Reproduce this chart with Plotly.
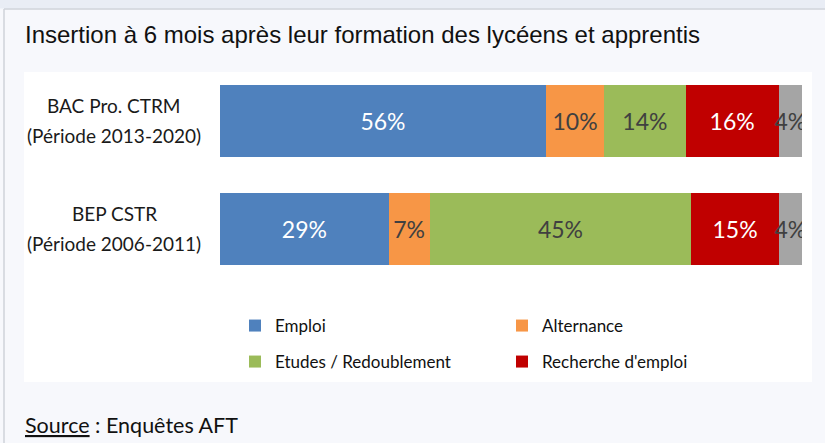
import plotly.graph_objects as go

categories = ["BAC Pro. CTRM<br>(Période 2013-2020)", "BEP CSTR<br>(Période 2006-2011)"]
series_names = ["Emploi", "Alternance", "Etudes / Redoublement", "Recherche d'emploi", "Autre"]
emploi = [56, 29]
alternance = [10, 7]
etudes = [14, 45]
recherche = [16, 15]
autre = [4, 4]

colors = ["#4f81bd", "#f79646", "#9bbb59", "#c00000", "#a5a5a5"]
text_colors = ["#ffffff", "#404040", "#404040", "#ffffff", "#404040"]
legend_ids = ["legend", "legend", "legend2", "legend2", "legend"]
show_legend = [True, True, True, True, False]
values = [emploi, alternance, etudes, recherche, autre]

W, H = 825, 443
L, R, T, B = 220, 23, 67, 160
PW, PH = W - L - R, H - T - B

def px(x):
    return (x - L) / PW

def py(y):
    return (H - B - y) / PH

fig = go.Figure()
for name, vals, col, tcol, lg, sl in zip(series_names, values, colors, text_colors, legend_ids, show_legend):
    fig.add_trace(go.Bar(
        y=categories, x=vals, name=name, orientation="h",
        marker=dict(color=col, line=dict(width=0)),
        text=[f"{v}%" for v in vals], textposition="inside", textangle=0,
        insidetextanchor="middle",
        textfont=dict(family="Lato", size=23, color=tcol),
        showlegend=sl, legend=lg, hoverinfo="skip",
    ))

shapes = [
    dict(type="rect", xref="paper", yref="paper", x0=px(0), x1=px(W), y0=py(0), y1=py(8.5),
         fillcolor="#e9edf5", line=dict(width=0), layer="below"),
    dict(type="line", xref="paper", yref="paper", x0=px(4), x1=px(W), y0=py(9), y1=py(9),
         line=dict(color="#cfd3da", width=1.5), layer="below"),
    dict(type="line", xref="paper", yref="paper", x0=px(4), x1=px(4), y0=py(9), y1=py(H),
         line=dict(color="#cfd3da", width=1.5), layer="below"),
    dict(type="rect", xref="paper", yref="paper", x0=px(24), x1=px(812), y0=py(72), y1=py(382),
         fillcolor="#ffffff", line=dict(width=0), layer="below"),
]

annotations = [
    dict(text="Insertion à 6 mois après leur formation des lycéens et apprentis",
         xref="paper", yref="paper", x=px(23), y=py(34), xanchor="left", yanchor="middle",
         showarrow=False, font=dict(family="Liberation Sans", size=24, color="#111111")),
    dict(text="<u>Source</u> : Enquêtes AFT",
         xref="paper", yref="paper", x=px(23), y=py(425), xanchor="left", yanchor="middle",
         showarrow=False, font=dict(family="Lato", size=21.5, color="#111111")),
]

for cat in categories:
    lines = cat.split("<br>")
    for i, line in enumerate(lines):
        annotations.append(dict(
            text=line, xref="paper", yref="y", x=px(114), y=cat,
            xanchor="center", yanchor="middle", yshift=16 - 30 * i,
            showarrow=False, font=dict(family="Lato", size=19, color="#1a1a1a")))

fig.update_layout(
    width=W, height=H,
    margin=dict(l=L, r=R, t=T, b=B, pad=0),
    barmode="stack", bargap=0.333,
    paper_bgcolor="#f7f8fc", plot_bgcolor="rgba(0,0,0,0)",
    xaxis=dict(range=[0, 100], visible=False, fixedrange=True),
    yaxis=dict(autorange="reversed", showgrid=False, zeroline=False, showline=False,
               ticks="", showticklabels=False, fixedrange=True),
    uniformtext=dict(mode="show", minsize=23),
    legend=dict(orientation="h", x=px(235), y=py(326), xanchor="left", yanchor="middle",
                entrywidth=222, bgcolor="rgba(0,0,0,0)",
                font=dict(family="Lato", size=17, color="#111111"), traceorder="normal"),
    legend2=dict(orientation="h", x=px(235), y=py(362), xanchor="left", yanchor="middle",
                 entrywidth=222, bgcolor="rgba(0,0,0,0)",
                 font=dict(family="Lato", size=17, color="#111111"), traceorder="normal"),
    shapes=shapes, annotations=annotations,
    showlegend=True,
)

fig.write_html("out.html", config={"displayModeBar": False},
               post_script="document.body.style.margin='0';")
